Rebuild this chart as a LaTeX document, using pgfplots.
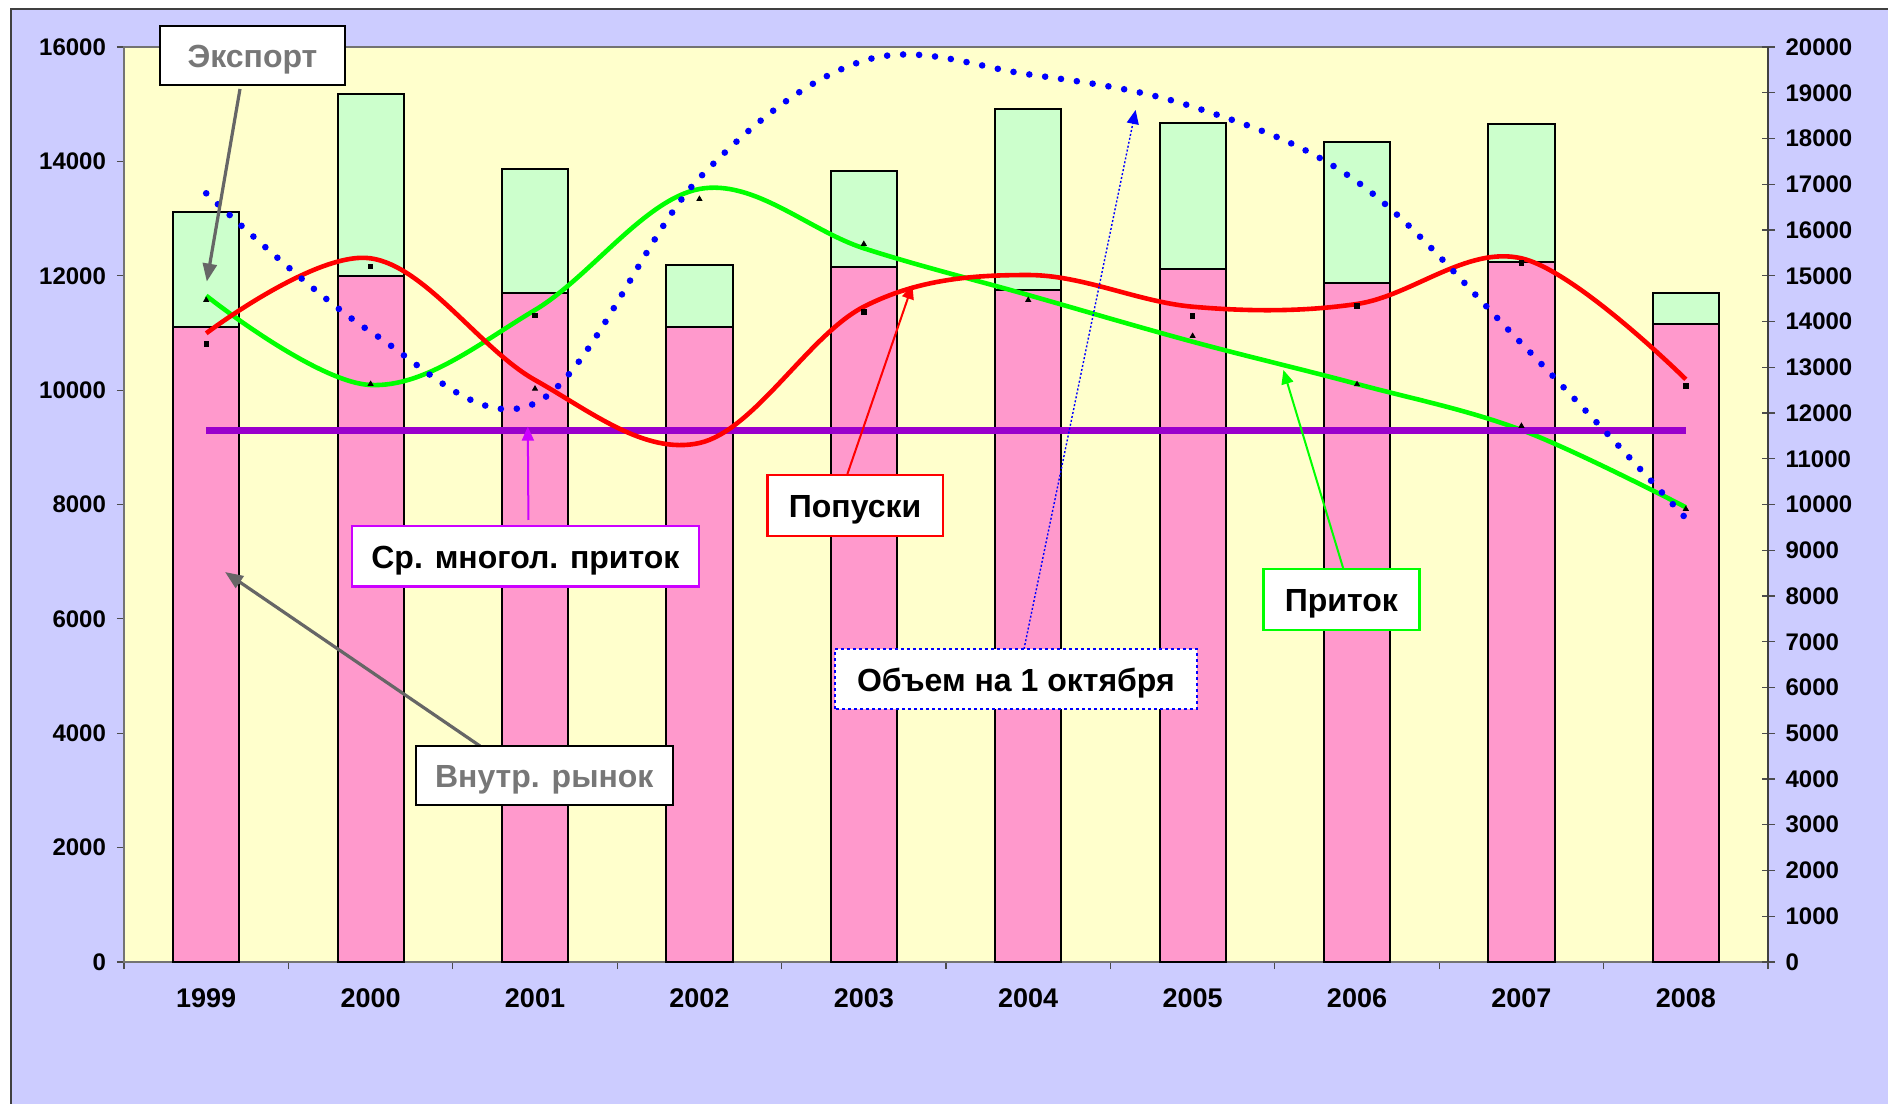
\documentclass[border=0pt]{standalone}
\usepackage{pgfplots}
\pgfplotsset{compat=1.18}
\usepackage{fontspec}
\setmainfont{Liberation Sans}
\usetikzlibrary{arrows.meta}
\definecolor{lav}{HTML}{CCCCFF}
\definecolor{plotbg}{HTML}{FFFFCC}
\definecolor{barpink}{HTML}{FF99CC}
\definecolor{bargreen}{HTML}{CCFFCC}
\definecolor{purp}{HTML}{9900CC}
\definecolor{mag}{HTML}{CC00FF}
\definecolor{txtgray}{HTML}{777777}
\definecolor{arrgray}{HTML}{666666}
\definecolor{lgreen}{HTML}{00FF00}

\begin{document}
\begin{tikzpicture}
\useasboundingbox (0pt,0pt) rectangle (944pt,551.5pt);
\fill[white] (0pt,0pt) rectangle (944pt,551.5pt);
\filldraw[fill=lav, draw=black!75, line width=1.2pt] (5.5pt,-10pt) rectangle (960pt,547pt);

\begin{axis}[
  at={(62pt,70.5pt)}, anchor=south west,
  scale only axis, width=822pt, height=457.5pt,
  xmin=-0.5, xmax=9.5, ymin=0, ymax=16000,
  ybar stacked, bar width=33.1pt,
  axis background/.style={fill=plotbg},
  axis line style={draw=black!55, line width=0.8pt},
  ytick distance=2000, ytick pos=left,
  xtick={-0.5,0.5,...,9.5}, xticklabels={},
  xtick pos=bottom,
  extra x ticks={0,1,2,3,4,5,6,7,8,9},
  extra x tick labels={1999,2000,2001,2002,2003,2004,2005,2006,2007,2008},
  extra x tick style={major tick length=0pt, xticklabel style={yshift=-10pt}},
  tick align=outside, major tick length=3.5pt,
  tick style={draw=black!70, line width=0.6pt},
  scaled y ticks=false,
  /pgf/number format/assume math mode=true,
  /pgf/number format/set thousands separator={},
  yticklabel style={font=\fontsize{12}{14}\selectfont\bfseries, xshift=-2pt},
  xticklabel style={font=\fontsize{13.5}{15}\selectfont\bfseries},
]
\addplot[fill=barpink, draw=black, line width=1pt] coordinates {
 (0,11110) (1,12000) (2,11700) (3,11110) (4,12150) (5,11750) (6,12110) (7,11870) (8,12240) (9,11150)};
\addplot[fill=bargreen, draw=black, line width=1pt] coordinates {
 (0,2000) (1,3180) (2,2170) (3,1080) (4,1680) (5,3170) (6,2560) (7,2470) (8,2410) (9,550)};
\end{axis}

\begin{axis}[
  at={(62pt,70.5pt)}, anchor=south west,
  scale only axis, width=822pt, height=457.5pt,
  xmin=-0.5, xmax=9.5, ymin=0, ymax=20000,
  axis y line*=right, axis x line=none,
  y axis line style={draw=black!75, line width=0.8pt},
  ytick distance=1000,
  tick align=center, major tick length=6.5pt,
  tick style={draw=black!70, line width=0.6pt},
  scaled y ticks=false,
  /pgf/number format/assume math mode=true,
  /pgf/number format/set thousands separator={},
  yticklabel style={font=\fontsize{12}{14}\selectfont\bfseries, xshift=2pt},
]
% small black markers
\addplot[only marks, mark=square*, mark size=1.1pt, black] coordinates {
 (0,13508) (1,15198) (2,14127) (4,14214) (6,14120) (7,14339) (8,15279) (9,12590)};
\addplot[only marks, mark=triangle*, mark size=1.4pt, black] coordinates {
 (0,14470) (1,12634) (2,12531) (3,16678) (4,15694) (5,14470) (6,13683) (7,12627) (8,11716) (9,9902)};
% Приток
\addplot[lgreen, line width=2.3pt, smooth, tension=0.6] coordinates {
 (0,14564) (1,12612) (2,14251) (3,16896) (4,15600) (5,14579) (6,13558) (7,12634) (8,11628) (9,9939)};
% Ср. многол. приток
\addplot[purp, line width=3.5pt] coordinates {(0,11628) (9,11628)};
% Попуски
\addplot[red, line width=2.3pt, smooth, tension=0.6] coordinates {
 (0,13742) (1,15381) (2,12721) (3,11344) (4,14323) (5,15016) (6,14323) (7,14383) (8,15381) (9,12736)};
% Объем на 1 октября
\addplot[blue, line width=3.3pt, line cap=round, dash pattern=on 0pt off 8pt, smooth, tension=0.6] coordinates {
 (0,16802) (1,13777) (2,12212) (3,17137) (4,19701) (5,19403) (6,18695) (7,17056) (8,13523) (9,9698)};
\end{axis}

% annotations
\tikzset{lbl/.style={font=\fontsize{16}{19}\selectfont\bfseries, yshift=-2pt}}
% Экспорт
\draw[arrgray, line width=1.6pt, -{Triangle[length=9pt,width=7pt]}] (120pt,507pt) -- (103.4pt,410.7pt);
\filldraw[fill=white, draw=black, line width=1pt] (80pt,509pt) rectangle (172.5pt,538.6pt);
\node[lbl, text=txtgray] at (126.25pt,523.8pt) {Экспорт};
% Внутр. рынок
\draw[arrgray, line width=1.6pt, -{Triangle[length=9pt,width=7pt]}] (240pt,178.5pt) -- (112.5pt,265.5pt);
\filldraw[fill=white, draw=black, line width=1pt] (207.9pt,149pt) rectangle (336.4pt,178.6pt);
\node[lbl, text=txtgray] at (272.15pt,163.8pt) {Внутр. рынок};
% Ср. многол. приток
\draw[mag, line width=1pt, -{Triangle[length=7pt,width=6pt]}] (264.2pt,291.5pt) -- (263.9pt,338.2pt);
\filldraw[fill=white, draw=mag, line width=1.2pt] (175.9pt,258.2pt) rectangle (349.5pt,288.6pt);
\node[lbl] at (262.7pt,273.4pt) {Ср. многол. приток};
% Попуски
\draw[red, line width=1pt, -{Triangle[length=7pt,width=6pt]}] (423.7pt,314.5pt) -- (456.2pt,409pt);
\filldraw[fill=white, draw=red, line width=1.2pt] (383.7pt,283.5pt) rectangle (471.4pt,314pt);
\node[lbl] at (427.55pt,298.75pt) {Попуски};
% Объем на 1 октября
\draw[blue, line width=0.7pt, dash pattern=on 1pt off 1pt, -{Triangle[length=7pt,width=6pt]}] (512pt,227pt) -- (567.8pt,496.5pt);
\fill[white] (417.5pt,196.9pt) rectangle (598.4pt,226.9pt);
\draw[blue, line width=1.2pt, dash pattern=on 1.5pt off 1.5pt] (417.5pt,196.9pt) rectangle (598.4pt,226.9pt);
\node[lbl] at (507.95pt,211.9pt) {Объем на 1 октября};
% Приток
\draw[lgreen, line width=1pt, -{Triangle[length=7pt,width=6pt]}] (671.7pt,267pt) -- (641.7pt,366.5pt);
\filldraw[fill=white, draw=lgreen, line width=1.2pt] (631.7pt,236.5pt) rectangle (709.7pt,266.9pt);
\node[lbl] at (670.7pt,251.7pt) {Приток};
\end{tikzpicture}
\end{document}
